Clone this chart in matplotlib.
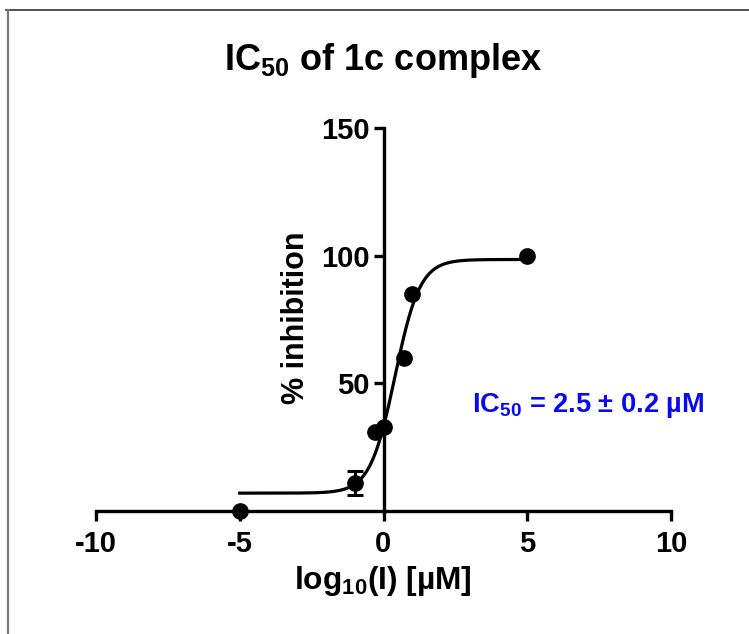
import numpy as np
import matplotlib
matplotlib.use("Agg")
import matplotlib.pyplot as plt
from matplotlib.lines import Line2D

plt.rcParams['font.family'] = ['Liberation Sans', 'DejaVu Sans']
plt.rcParams['mathtext.fontset'] = 'custom'
plt.rcParams['mathtext.rm'] = 'Liberation Sans:bold'
plt.rcParams['mathtext.it'] = 'Liberation Sans:bold'
plt.rcParams['mathtext.bf'] = 'Liberation Sans:bold'
plt.rcParams['axes.unicode_minus'] = False

# data
log_conc = [-5, -1, -0.3, 0.0, 0.7, 1.0, 5.0]
inhibition = [0, 11, 31, 33, 60, 85, 100]
err_x = [-1]
err_y = [11]
err_val = [4.7]

# fitted curve parameters
bottom, top, log_ic50, hill = 7.0, 98.5, 0.4, 1.0

x_ticks = [-10, -5, 0, 5, 10]
y_ticks = [50, 100, 150]

fig = plt.figure(figsize=(7.49, 6.34), dpi=100)
ax = fig.add_axes([96/749, (634-511)/634, (671-96)/749, (511-128)/634])

xc = np.linspace(-5, 5, 400)
yc = bottom + (top - bottom) / (1 + 10 ** ((log_ic50 - xc) * hill))
ax.plot(xc, yc, color='black', lw=2.3, clip_on=False, zorder=3)

ax.errorbar(err_x, err_y, yerr=err_val, fmt='none', ecolor='black', elinewidth=2.2,
            capsize=5.5, capthick=2.2, clip_on=False, zorder=4)
ax.plot(log_conc, inhibition, 'o', color='black', ms=11, clip_on=False, zorder=5)

ax.set_xlim(-10, 10)
ax.set_ylim(0, 150)
ax.spines['left'].set_position(('data', 0))
ax.spines['bottom'].set_position(('data', 0))
ax.spines['right'].set_visible(False)
ax.spines['top'].set_visible(False)
for s in ['left', 'bottom']:
    ax.spines[s].set_linewidth(2.4)
ax.set_xticks(x_ticks)
ax.set_yticks(y_ticks)
ax.tick_params(axis='both', direction='out', length=7, width=2.4, labelsize=21)
for lbl in ax.get_xticklabels() + ax.get_yticklabels():
    lbl.set_fontweight('bold')
ax.tick_params(axis='x', pad=7)
ax.tick_params(axis='y', pad=3)

fig.text(383/749, 1 - 60/634, r'IC$_{50}$ of 1c complex', ha='center', va='center',
         fontsize=26, fontweight='bold')
fig.text(296/749, 1 - 318/634, '% inhibition', ha='center', va='center', rotation=90,
         fontsize=22, fontweight='bold')
fig.text(383/749, 1 - 581/634, r'log$_{10}$(I) [µM]', ha='center', va='center',
         fontsize=22.8, fontweight='bold')
fig.text(588/749, 1 - 405/634, r'IC$_{50}$ = 2.5 ± 0.2 µM', ha='center', va='center',
         fontsize=19.6, fontweight='bold', color='#0A0AF0')

# frame lines (top and left)
fig.add_artist(Line2D([6/749, 1], [1 - 10/634, 1 - 10/634], color='#333333', lw=1.2,
                      transform=fig.transFigure))
fig.add_artist(Line2D([7.5/749, 7.5/749], [0, 1 - 10/634], color='#777777', lw=1.6,
                      transform=fig.transFigure))

fig.savefig('out.png', dpi=100)
